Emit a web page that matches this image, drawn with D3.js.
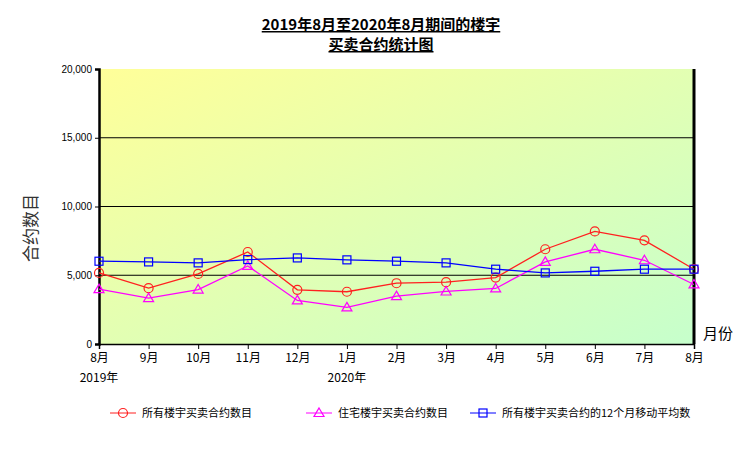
<!DOCTYPE html>
<html><head><meta charset="utf-8">
<script src="https://cdn.jsdelivr.net/npm/d3@7"></script>
<style>body{margin:0;background:#fff}svg{font-family:"Noto Sans CJK SC","Liberation Serif",serif}</style>
</head><body><svg id="c" width="756" height="454"></svg>
<script>
const months=["8月","9月","10月","11月","12月","1月","2月","3月","4月","5月","6月","7月","8月"];
const yearLabels=[[0,"2019年"],[5,"2020年"]];
const allContracts=[5170,4060,5100,6690,3940,3800,4420,4500,4830,6890,8190,7540,5440];
const residential=[3990,3340,3960,5680,3170,2660,3480,3820,4040,5970,6890,6090,4330];
const movingAvg=[6020,5970,5900,6140,6260,6120,6020,5900,5440,5170,5290,5440,5440];
const yTicks=[0,5000,10000,15000,20000];
const seriesNames=["所有楼宇买卖合约数目","住宅楼宇买卖合约数目","所有楼宇买卖合约的12个月移动平均数"];

const svg=d3.select("#c");
const L=99,R=694,T=69,B=344;
const x=d3.scalePoint().domain(d3.range(13)).range([L,R]);
const y=d3.scaleLinear().domain([0,20000]).range([B,T]);
const defs=svg.append("defs");
const g=defs.append("linearGradient").attr("id","bg").attr("x1","0").attr("y1","0").attr("x2","1").attr("y2","1");
g.append("stop").attr("offset","0").attr("stop-color","#ffff99");
g.append("stop").attr("offset","1").attr("stop-color","#c6ffcc");
svg.append("rect").attr("x",L).attr("y",T).attr("width",R-L).attr("height",B-T).attr("fill","url(#bg)");
svg.append("g").selectAll("line").data(yTicks.slice(1,4)).join("line")
 .attr("x1",L).attr("x2",R).attr("y1",d=>y(d)).attr("y2",d=>y(d)).attr("stroke","#000").attr("stroke-width",1.2);
const ya=svg.append("g").attr("transform",`translate(${L},0)`).call(d3.axisLeft(y).tickValues(yTicks).tickFormat(d3.format(",")).tickSize(4));
ya.selectAll("text").attr("font-family","Liberation Sans,Arial").attr("font-size",10);
ya.select(".domain").attr("stroke-width",2.5);
const xa=svg.append("g").attr("transform",`translate(0,${B})`).call(d3.axisBottom(x).tickFormat(i=>months[i]).tickSize(5).tickPadding(4));
xa.selectAll("text").attr("font-size",12).attr("font-family","Noto Sans CJK SC");
xa.select(".domain").attr("stroke-width",1.5);
svg.append("line").attr("x1",R).attr("x2",R).attr("y1",T).attr("y2",B).attr("stroke","#000").attr("stroke-width",3);
svg.selectAll(".yr").data(yearLabels).join("text").attr("x",d=>x(d[0])).attr("y",382).attr("text-anchor","middle").attr("font-size",12).text(d=>d[1]);

const series=[[allContracts,"#ff2020","circle"],[residential,"#ff00ff","tri"],[movingAvg,"#0000ff","sq"]];
const line=d3.line().x((d,i)=>x(i)).y(d=>y(d));
function marker(sel,type,color){
 if(type==="circle")sel.append("circle").attr("r",4.5);
 else if(type==="tri")sel.append("path").attr("d","M0,-5L5,3.5L-5,3.5Z");
 else sel.append("rect").attr("x",-4).attr("y",-4).attr("width",8).attr("height",8);
 sel.selectAll("*").attr("fill","none").attr("stroke",color).attr("stroke-width",1.2);
}
series.forEach(([data,color,type])=>{
 svg.append("path").datum(data).attr("d",line).attr("fill","none").attr("stroke",color).attr("stroke-width",1.3);
 data.forEach((v,i)=>{const m=svg.append("g").attr("transform",`translate(${x(i)},${y(v)})`);marker(m,type,color);});
});
svg.append("text").attr("x",381).attr("y",30).attr("text-anchor","middle").attr("font-size",15).attr("font-weight","bold").attr("text-decoration","underline").text("2019年8月至2020年8月期间的楼宇");
svg.append("text").attr("x",381).attr("y",50).attr("text-anchor","middle").attr("font-size",15).attr("font-weight","bold").attr("text-decoration","underline").text("买卖合约统计图");
svg.append("text").attr("transform","translate(37,228) rotate(-90)").attr("text-anchor","middle").attr("font-size",17).attr("fill","#333").text("合约数目");
svg.append("text").attr("x",703).attr("y",339).attr("font-size",15).text("月份");
const lx=[[110,"#ff2020","circle"],[306,"#ff00ff","tri"],[470,"#0000ff","sq"]];
lx.forEach(([px,color,type],k)=>{
 svg.append("line").attr("x1",px).attr("x2",px+26).attr("y1",413).attr("y2",413).attr("stroke",color);
 marker(svg.append("g").attr("transform",`translate(${px+13},413)`),type,color);
 svg.append("text").attr("x",px+32).attr("y",417).attr("font-size",11).text(seriesNames[k]);
});
</script></body></html>
